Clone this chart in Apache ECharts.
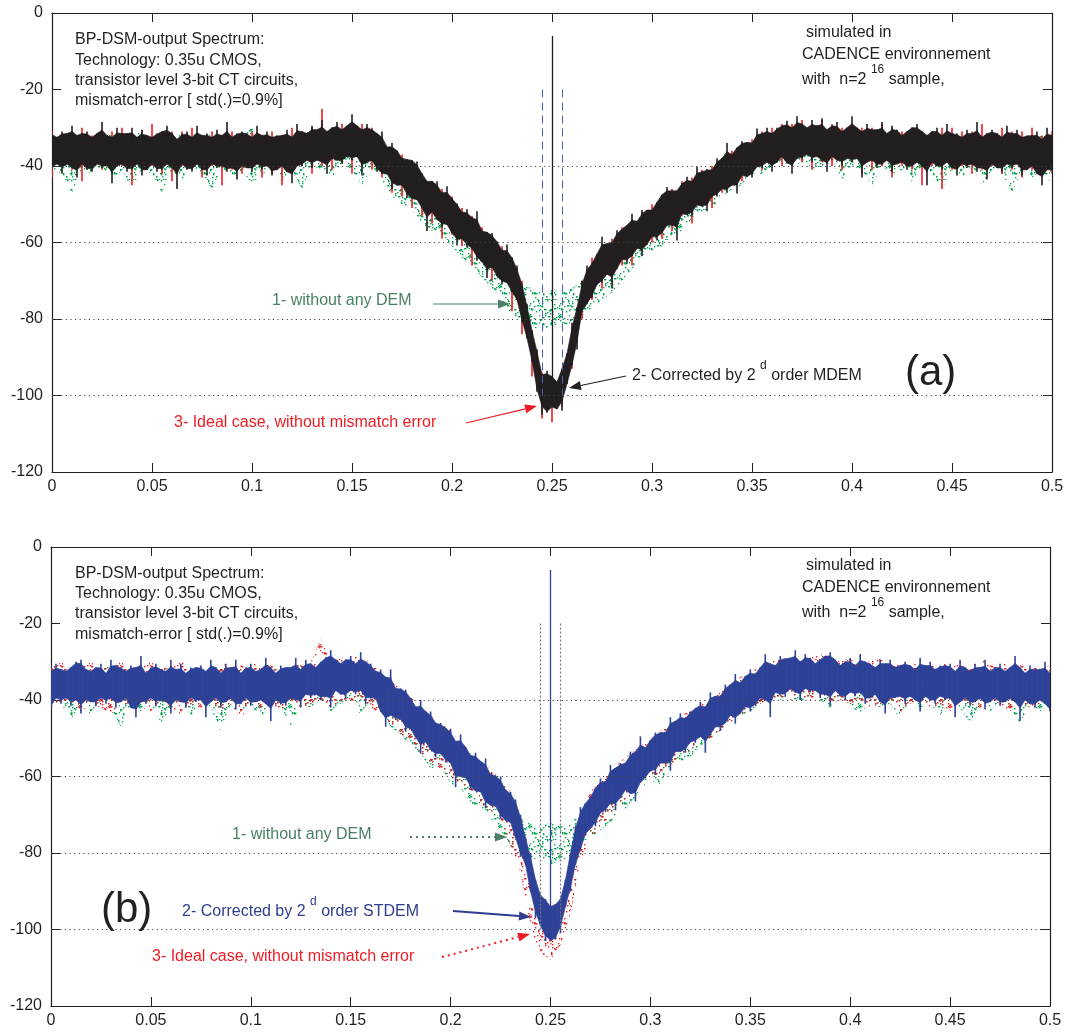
<!DOCTYPE html>
<html><head><meta charset="utf-8">
<script src="https://cdn.jsdelivr.net/npm/echarts@6/dist/echarts.min.js"></script>
<style>html,body{margin:0;padding:0;background:#fff}#c{width:1067px;height:1032px}</style>
</head><body><div id="c"></div>
<script>
// ---------- data (dB values) ----------
const FREQ_STEP_FINE = 0.0025;   // grid of the main (top-drawn) traces
const FREQ_STEP_COARSE = 0.005;  // grid of the underlying traces
const gridDb = [-40, -60, -80, -100];
const bandEdges = [0.245, 0.255];
const bandTopDb = -20, bandBottomDb = -100;
const toneFreq = 0.25;
const toneA = -6, toneB = -6;      // signal tone peak (dB)
const toneBaseA = -100, toneBaseB = -100;

// (a) black: 2nd order MDEM (upper / lower excursions)
const blackA_hi = [
-31.5,-32.5,-31,-31.5,-29.5,-32,-31.5,-31,-32.5,-31.5,
-28.5,-32,-32.5,-30,-31.5,-31.5,-30,-32.5,-30.5,-32,
-32.5,-31.5,-31,-29.5,-31.5,-33,-31.5,-31,-32.5,-29.5,
-32,-31.5,-32.5,-30.5,-32,-28.5,-32.5,-31.5,-31,-31.5,
-32.5,-29.5,-32,-31,-32.5,-32,-32,-30.5,-32.5,-29,
-31,-31.5,-29.5,-30.5,-28,-31,-30,-28.5,-30.5,-29.5,
-26.5,-29.5,-30.5,-29,-30.5,-31.5,-31,-35,-34,-36,
-38,-38.3,-38.5,-38.8,-42,-44,-44,-44,-47,-45.3,
-48.5,-49.8,-52,-51.3,-53.5,-51.8,-57,-57.3,-57.5,-59.8,
-62,-60.5,-64,-66,-71,-76,-83,-88,-94.5,-93.5,
-95,-96.5,-93,-89,-81,-77,-70,-66,-65.5,-63,
-58.5,-60.3,-60,-56.8,-56.5,-55.5,-52.5,-54.5,-51.5,-51.5,
-51.5,-49.5,-47.5,-45.5,-46.5,-46.5,-44.5,-42.8,-44,-40.2,
-41.5,-40.8,-41,-38,-38,-34,-37,-35.2,-33.5,-33.8,
-34,-30.2,-31.5,-30,-31.5,-30,-29.5,-28.2,-30,-27,
-29,-30,-28,-29.5,-27.5,-30.5,-29.5,-28.5,-31,-30,
-27,-30,-31,-29,-30.5,-30.5,-28.5,-31.5,-29.5,-30.5,
-32,-31,-30,-29,-31,-32,-31,-30,-32,-29,
-31.5,-31.5,-32.5,-30.5,-31.5,-28.5,-32.5,-31.5,-30.5,-31.5,
-32.5,-29.5,-31.5,-30.5,-32.5,-32,-32,-31,-33,-30,
-32];
const blackA_lo = [
-40.5,-39.5,-42,-39.5,-40.5,-43,-39.5,-41,-41.5,-39.5,
-40.5,-40,-44.5,-40,-39.5,-41.5,-41,-39.5,-42.5,-41,
-39.5,-41.5,-41,-39.5,-40.5,-46,-39.5,-41,-41.5,-39.5,
-41,-42.5,-39.5,-40.5,-40,-41.5,-40.5,-43.5,-40,-40.5,
-41.5,-39.5,-41,-40,-42.5,-41,-40,-41.5,-44.5,-40,
-40,-38.5,-40.5,-38.5,-39,-42,-38,-38.5,-39.5,-37.5,
-38.5,-37.5,-42.5,-39,-38.5,-41.5,-42,-42,-46,-45,
-45,-48.3,-48.5,-48.8,-51,-57,-52,-54,-56,-55.3,
-57.5,-60.8,-59,-61.3,-61.5,-64.8,-65,-69.3,-66.5,-68.8,
-71,-70.5,-73,-75,-81,-85,-91,-99,-105,-104.5,
-103,-103.5,-104,-97,-92,-88,-78,-76,-74.5,-71,
-70.5,-68.3,-72,-66.8,-64.5,-65.5,-63.5,-61.5,-63.5,-60.5,
-58.5,-59.5,-57.5,-55.5,-55.5,-59.5,-52.5,-52.8,-53,-50.2,
-50.5,-51.8,-48,-48,-46,-47,-45,-47.2,-42.5,-42.8,
-43,-40.2,-40.5,-39,-41.5,-39,-37.5,-39.2,-42,-38,
-38,-37,-39,-37.5,-38.5,-41.5,-37.5,-38.5,-40,-38,
-39,-38,-43,-39,-38.5,-40.5,-39.5,-38.5,-41.5,-39.5,
-39,-41,-40,-39,-40,-45,-39,-40,-41,-39,
-40.5,-42.5,-39.5,-40.5,-39.5,-41.5,-40.5,-43.5,-39.5,-40.5,
-41.5,-39.5,-40.5,-39.5,-42.5,-41,-40,-42,-45,-41,
-41];

// (a) green: without any DEM
const greenA_hi = [
-32,-33,-31,-32,-33,-31,-32,-33,-32,-31,
-33,-32,-32,-31,-33,-32,-31,-33,-32,-32,
-30,-33,-32,-33,-32,-31,-31,-30,-31,-30,
-29,-30,-31,-34,-36,-38,-40,-43,-45,-47,
-49,-52,-54,-57,-59,-62,-66,-71,-72,-73,
-72,-73,-72,-70,-65,-62,-60,-57,-55,-53,
-51,-49,-47,-45,-44,-42,-41,-39,-37,-35,
-34,-32,-31,-30,-30,-30,-30,-30,-31,-31,
-31,-31,-31,-32,-31,-32,-32,-31,-32,-32,
-32,-33,-32,-32,-33,-32,-32,-33,-33,-32,
-33];
const greenA_lo = [
-41,-42,-47,-41,-42,-40,-44,-41,-46,-41,
-42,-47,-41,-44,-40,-42,-46,-41,-43,-41,
-45,-42,-41,-44,-41,-46,-40,-41,-43,-39,
-41,-45,-40,-44,-48,-50,-51,-55,-57,-58,
-61,-64,-66,-69,-72,-75,-79,-80,-82,-83,
-82,-81,-82,-80,-77,-75,-73,-70,-67,-64,
-62,-61,-58,-57,-54,-53,-51,-48,-46,-45,
-42,-42,-40,-39,-40,-39,-41,-40,-39,-44,
-40,-41,-45,-40,-42,-41,-44,-40,-42,-46,
-41,-43,-40,-45,-41,-42,-47,-41,-43,-41,
-45];

// (a) red: ideal case
const redA_hi = [
-31,-32,-31,-30,-32,-31,-31,-30,-32,-31,
-29,-32,-31,-31,-30,-32,-31,-32,-31,-32,
-31,-32,-31,-32,-30,-31,-30,-25,-30,-29,
-29,-29,-30,-33,-35,-37,-39,-42,-44,-46,
-48,-51,-53,-56,-58,-61,-64,-70,-83,-94,
-95,-94,-83,-70,-64,-61,-59,-56,-54,-52,
-50,-48,-46,-44,-43,-41,-40,-38,-36,-34,
-33,-31,-30,-29,-29,-28,-29,-28,-29,-30,
-29,-30,-30,-29,-30,-31,-30,-31,-31,-30,
-30,-31,-31,-29,-31,-30,-31,-31,-30,-32,
-31];
const redA_lo = [
-43,-40,-41,-44,-40,-41,-42,-40,-45,-41,
-40,-42,-44,-40,-41,-43,-40,-45,-41,-42,
-40,-43,-42,-45,-41,-40,-42,-40,-41,-39,
-42,-40,-41,-43,-47,-48,-51,-53,-55,-59,
-58,-61,-66,-65,-70,-70,-78,-84,-95,-106,
-107,-103,-93,-80,-75,-72,-70,-66,-66,-61,
-60,-59,-57,-53,-55,-50,-51,-47,-45,-44,
-42,-41,-40,-40,-38,-39,-41,-39,-40,-41,
-39,-42,-41,-40,-43,-40,-41,-45,-40,-46,
-41,-40,-42,-41,-40,-42,-41,-43,-41,-40,
-42];

// (b) blue: 2nd order STDEM
const blueB_hi = [
-32.5,-30.5,-32,-32.5,-31.5,-30,-29.5,-32,-32.5,-31.5,
-30.5,-33,-29.5,-31,-31.5,-32.5,-31,-31.5,-28.5,-33,
-31.5,-30.5,-32,-32.5,-29.5,-32,-30.5,-33,-31.5,-31.5,
-31,-32.5,-29.5,-31.5,-33,-30.5,-31.5,-29.5,-33,-31.5,
-30.5,-32.5,-32,-29,-31.5,-33,-31,-31.5,-31.5,-29,
-32,-29.5,-30.5,-31.5,-30,-29,-27,-29.5,-30.5,-29.5,
-28.5,-30.5,-27.5,-30,-30.5,-32.5,-32,-34,-32,-37,
-37,-37.3,-39.5,-41.8,-40,-43,-43,-46,-46,-47.3,
-47.5,-50.8,-49,-52.3,-54.5,-53.8,-56,-55.3,-59.5,-59.8,
-60,-63.5,-64,-66,-70,-76,-80,-87,-91,-92,
-94,-93.5,-92,-87,-80,-73,-68,-67,-65.5,-63,
-60.5,-61.3,-57,-57.8,-56.5,-56.5,-53.5,-53.5,-49.5,-52.5,
-50.5,-48.5,-48.5,-48.5,-44.5,-45.5,-43.5,-44.8,-43,-42.2,
-40.5,-41.8,-38,-39,-39,-36,-36,-33.2,-35.5,-33.8,
-32,-33.2,-31.5,-28,-30.5,-31,-28.5,-29.2,-29,-27,
-30,-28,-29,-30.5,-29.5,-28.5,-27.5,-29.5,-31,-30,
-29,-31,-28,-30,-30.5,-31.5,-29.5,-30.5,-29.5,-31.5,
-31,-30,-31,-32,-29,-31,-30,-32,-31,-31,
-30.5,-32.5,-29.5,-31.5,-32.5,-30.5,-31.5,-29.5,-32.5,-31.5,
-30.5,-32.5,-31.5,-28.5,-31.5,-33,-31,-32,-32,-30,
-33];
const blueB_lo = [
-42.5,-39.5,-41,-39.5,-41.5,-40,-43.5,-40,-40.5,-41.5,
-39.5,-41,-39.5,-42,-40.5,-39.5,-42,-44.5,-40.5,-41,
-39.5,-41.5,-40,-40.5,-43.5,-40,-40.5,-42,-39.5,-40.5,
-40,-44.5,-40.5,-39.5,-42,-40.5,-39.5,-42.5,-41,-39.5,
-41.5,-40.5,-40,-41,-45.5,-40,-41,-41.5,-39.5,-40,
-42,-38.5,-39.5,-38.5,-40,-39,-42,-37.5,-38.5,-39.5,
-37.5,-38.5,-37.5,-41,-39.5,-39.5,-43,-47,-44,-45,
-45,-48.3,-47.5,-49.8,-54,-51,-53,-55,-54,-56.3,
-56.5,-62.8,-60,-60.3,-63.5,-63.8,-64,-68.3,-67.5,-67.8,
-71,-71.5,-72,-76,-81,-83,-90,-97,-99,-103,
-103,-102.5,-101,-94,-90,-83,-79,-75,-73.5,-73,
-69.5,-69.3,-67,-68.8,-65.5,-63.5,-64.5,-66.5,-61.5,-60.5,
-58.5,-59.5,-56.5,-56.5,-58.5,-53.5,-53.5,-53.8,-51,-51.2,
-49.5,-53.8,-49,-47,-48,-46,-44,-46.2,-43.5,-41.8,
-43,-41.2,-39.5,-40,-44.5,-38,-38.5,-39.2,-37,-38,
-40,-37,-38,-37.5,-39.5,-38.5,-41.5,-37.5,-39,-40,
-38,-39,-38,-41,-39.5,-38.5,-40.5,-43.5,-39.5,-39.5,
-39,-41,-39,-40,-43,-39,-40,-41,-39,-40,
-39.5,-44.5,-40.5,-39.5,-41.5,-40.5,-39.5,-42.5,-40.5,-39.5,
-41.5,-40.5,-39.5,-40.5,-45.5,-40,-41,-42,-40,-41,
-43];

// (b) green: without any DEM
const greenB_hi = [
-31,-32,-32,-31,-33,-32,-31,-32,-31,-33,
-32,-31,-32,-33,-31,-32,-32,-31,-33,-32,
-31,-32,-33,-31,-32,-31,-30,-31,-29,-30,
-29,-30,-31,-34,-36,-38,-40,-43,-45,-47,
-49,-52,-54,-57,-59,-62,-66,-71,-72,-73,
-72,-73,-72,-70,-65,-62,-60,-57,-55,-53,
-51,-49,-47,-45,-44,-42,-41,-39,-37,-35,
-34,-32,-31,-30,-30,-30,-30,-30,-31,-31,
-31,-31,-31,-32,-31,-32,-32,-31,-32,-32,
-32,-33,-32,-32,-33,-32,-32,-33,-33,-32,
-33];
const greenB_lo = [
-42,-41,-45,-41,-44,-40,-42,-47,-41,-43,
-41,-46,-42,-41,-44,-40,-42,-48,-41,-43,
-41,-45,-40,-42,-47,-41,-42,-40,-43,-41,
-39,-44,-40,-43,-47,-49,-52,-54,-58,-57,
-62,-63,-67,-68,-71,-74,-78,-81,-82,-81,
-83,-82,-81,-79,-76,-74,-72,-69,-68,-63,
-61,-62,-57,-56,-55,-52,-50,-49,-45,-44,
-43,-41,-39,-40,-39,-41,-39,-40,-42,-39,
-41,-44,-40,-42,-41,-45,-40,-42,-41,-44,
-40,-42,-46,-41,-43,-40,-42,-46,-41,-43,
-41];

// (b) red: ideal case
const redB_hi = [
-31,-30,-32,-31,-30,-32,-31,-30,-32,-31,
-30,-32,-31,-30,-31,-32,-31,-30,-32,-31,
-31,-30,-31,-32,-30,-31,-30,-24,-30,-29,
-28,-29,-30,-33,-35,-37,-39,-42,-44,-46,
-48,-51,-53,-56,-58,-61,-64,-70,-84,-92,
-93,-94,-84,-70,-64,-61,-59,-56,-54,-52,
-50,-48,-46,-44,-43,-41,-40,-38,-36,-34,
-33,-31,-30,-29,-29,-28,-29,-28,-29,-30,
-29,-30,-30,-29,-30,-31,-30,-31,-31,-30,
-30,-31,-31,-29,-31,-30,-31,-31,-30,-32,
-31];
const redB_lo = [
-42,-41,-40,-43,-41,-42,-44,-40,-42,-41,
-43,-40,-42,-44,-41,-42,-40,-43,-41,-45,
-40,-42,-41,-43,-40,-42,-41,-40,-42,-40,
-41,-39,-42,-44,-46,-49,-50,-54,-56,-58,
-60,-62,-64,-67,-69,-71,-78,-85,-100,-106,
-108,-104,-96,-82,-76,-73,-71,-67,-66,-62,
-61,-59,-57,-55,-53,-51,-50,-48,-46,-44,
-42,-41,-40,-39,-40,-39,-40,-38,-41,-40,
-41,-40,-42,-41,-40,-43,-41,-40,-42,-41,
-43,-40,-41,-42,-40,-41,-43,-40,-42,-41,
-40];

// ---------- build ----------
const FONT = '"Liberation Sans", Arial, Helvetica, sans-serif';
const INK = '#231f20';
const C_BLACK = '#231f20', C_RED = '#ed1c24', C_GREEN = '#00a651', C_BLUE = '#2e4298';

// dotted texture used for the "dotted" traces (style only)
function dotPattern(color, count, size) {
  const c = document.createElement('canvas');
  c.width = 30; c.height = 30;
  const g = c.getContext('2d');
  g.fillStyle = color;
  let s = 12345;
  const nxt = () => (s = (s * 16807) % 2147483647);
  for (let k = 0; k < count; k++) {
    const x = nxt() % 30, y = nxt() % 30;
    g.fillRect(x, y, size, size);
  }
  return {image: c, repeat: 'repeat'};
}

// band items: [f, hi, lo, coreTop, coreBottom, fNext, coreTopNext, coreBottomNext]
// the part of each sample's excursion beyond its neighbours is drawn as a thin hair
function hairBandItems(hi, lo, step) {
  const n = hi.length, ct = [], cb = [];
  for (let i = 0; i < n; i++) {
    const ah = (hi[Math.max(0, i - 1)] + hi[Math.min(n - 1, i + 1)]) / 2;
    const al = (lo[Math.max(0, i - 1)] + lo[Math.min(n - 1, i + 1)]) / 2;
    let t = hi[i] <= ah ? hi[i] : ah + 0.35 * (hi[i] - ah);
    let b = lo[i] >= al ? lo[i] : al - 0.35 * (al - lo[i]);
    if (t < b + 1) { const m = (hi[i] + lo[i]) / 2; t = m + 1; b = m - 1; }
    ct.push(t); cb.push(b);
  }
  const d = [];
  for (let i = 0; i < n; i++) {
    const j = Math.min(n - 1, i + 1);
    d.push([+(i * step).toFixed(6), hi[i], lo[i], ct[i], cb[i], +(j * step).toFixed(6), ct[j], cb[j]]);
  }
  return d;
}

function hairBandSeries(name, hi, lo, step, ai, color, z, hairW) {
  return {
    type: 'custom', name, xAxisIndex: ai, yAxisIndex: ai, z, silent: true, animation: false, clip: true,
    encode: {x: [0, 5], y: [1, 2]},
    data: hairBandItems(hi, lo, step),
    renderItem(params, api) {
      const f0 = api.value(0), f1 = api.value(5);
      const top = api.coord([f0, api.value(1)]), bot = api.coord([f0, api.value(2)]);
      const children = [{
        type: 'rect',
        shape: {x: top[0] - hairW / 2, y: top[1], width: hairW, height: bot[1] - top[1]},
        style: {fill: color}
      }];
      if (f1 > f0) {
        children.push({
          type: 'polygon',
          shape: {points: [
            api.coord([f0, api.value(3)]), api.coord([f1, api.value(6)]),
            api.coord([f1, api.value(7)]), api.coord([f0, api.value(4)])
          ]},
          style: {fill: color, stroke: color, lineWidth: 0.6}
        });
      }
      return {type: 'group', children};
    }
  };
}

function hairSeries(name, hi, lo, step, ai, color, z, hairW) {
  const data = hi.map((h, i) => [+(i * step).toFixed(6), h, lo[i]]);
  return {
    type: 'custom', name, xAxisIndex: ai, yAxisIndex: ai, z, silent: true, animation: false, clip: true,
    encode: {x: 0, y: [1, 2]},
    data,
    renderItem(params, api) {
      const top = api.coord([api.value(0), api.value(1)]), bot = api.coord([api.value(0), api.value(2)]);
      return {type: 'rect', shape: {x: top[0] - hairW / 2, y: top[1], width: hairW, height: bot[1] - top[1]},
        style: {fill: color}};
    }
  };
}

function dottedBandSeries(name, hi, lo, step, ai, fill, z) {
  const data = [];
  for (let i = 0; i < hi.length - 1; i++) {
    data.push([+(i * step).toFixed(6), hi[i], lo[i], +((i + 1) * step).toFixed(6), hi[i + 1], lo[i + 1]]);
  }
  return {
    type: 'custom', name, xAxisIndex: ai, yAxisIndex: ai, z, silent: true, animation: false, clip: true,
    encode: {x: [0, 3], y: [1, 2, 4, 5]},
    data,
    renderItem(params, api) {
      return {
        type: 'polygon',
        shape: {points: [
          api.coord([api.value(0), api.value(1)]), api.coord([api.value(3), api.value(4)]),
          api.coord([api.value(3), api.value(5)]), api.coord([api.value(0), api.value(2)])
        ]},
        style: {fill}
      };
    }
  };
}

const chart = echarts.init(document.getElementById('c'), null, {renderer: 'canvas'});

const grids = [
  {left: 52, top: 13, width: 1000, height: 459},
  {left: 51, top: 547, width: 999, height: 459}
];

function xAx(gi, pos) {
  return {
    type: 'value', gridIndex: gi, position: pos, min: 0, max: 0.5, interval: 0.05,
    axisLine: {show: true, onZero: false, lineStyle: {color: INK, width: 1.2}},
    axisTick: {show: true, inside: true, length: 9, lineStyle: {color: INK}},
    splitLine: {show: false},
    axisLabel: {show: pos === 'bottom', color: INK, fontSize: 16, fontFamily: FONT, margin: 7,
      formatter: v => String(+v.toFixed(2))}
  };
}
function yAx(gi, pos) {
  return {
    type: 'value', gridIndex: gi, position: pos, min: -120, max: 0, interval: 20,
    axisLine: {show: true, onZero: false, lineStyle: {color: INK, width: 1.2}},
    axisTick: {show: true, inside: true, length: 9, lineStyle: {color: INK}},
    splitLine: {show: false},
    axisLabel: {show: pos === 'left', color: INK, fontSize: 16, fontFamily: FONT, margin: 9}
  };
}

function guideSeries(ai, edgeStyle) {
  return {
    type: 'line', data: [], xAxisIndex: ai, yAxisIndex: ai, z: 1, silent: true, animation: false,
    markLine: {
      silent: true, symbol: 'none', animation: false, label: {show: false},
      lineStyle: {color: '#444', width: 1, type: [1.2, 3.4]},
      data: gridDb.map(v => ({yAxis: v})).concat(
        bandEdges.map(f => [
          {coord: [f, bandTopDb], lineStyle: edgeStyle},
          {coord: [f, bandBottomDb], lineStyle: edgeStyle}
        ]))
    }
  };
}
function toneSeries(ai, base, peak, color) {
  return {
    type: 'line', data: [], xAxisIndex: ai, yAxisIndex: ai, z: 6, silent: true, animation: false,
    markLine: {
      silent: true, symbol: 'none', animation: false, label: {show: false},
      lineStyle: {color, width: 1.3, type: 'solid'},
      data: [[{coord: [toneFreq, base]}, {coord: [toneFreq, peak]}]]
    }
  };
}

const series = [
  // (a)
  guideSeries(0, {color: '#4b5cb5', width: 1, type: [8, 5]}),
  dottedBandSeries('green a', greenA_hi, greenA_lo, FREQ_STEP_COARSE, 0, dotPattern(C_GREEN, 90, 1.4), 2),
  hairSeries('red a', redA_hi, redA_lo, FREQ_STEP_COARSE, 0, C_RED, 3, 1.6),
  hairBandSeries('black a', blackA_hi, blackA_lo, FREQ_STEP_FINE, 0, C_BLACK, 4, 1.6),
  toneSeries(0, toneBaseA, toneA, C_BLACK),
  // (b)
  guideSeries(2, {color: '#777', width: 1.2, type: [2, 2]}),
  dottedBandSeries('green b', greenB_hi, greenB_lo, FREQ_STEP_COARSE, 2, dotPattern(C_GREEN, 90, 1.4), 2),
  dottedBandSeries('red b', redB_hi, redB_lo, FREQ_STEP_COARSE, 2, dotPattern(C_RED, 75, 1.4), 3),
  hairBandSeries('blue b', blueB_hi, blueB_lo, FREQ_STEP_FINE, 2, C_BLUE, 4, 1.6),
  toneSeries(2, toneBaseB, toneB, C_BLUE)
];

// ---------- annotations ----------
function txt(x, y, text, color, size) {
  return {
    type: 'text', x, y, z: 100, silent: true,
    style: {
      text, fill: color, fontSize: size, fontFamily: FONT,
      align: 'left', verticalAlign: 'middle', textAlign: 'left', textVerticalAlign: 'middle'
    }
  };
}
function supTxt(x, y, parts, color) {
  return {
    type: 'text', x, y, z: 100, silent: true,
    style: {
      text: parts, fill: color, fontSize: 16, fontFamily: FONT, lineHeight: 32,
      align: 'left', verticalAlign: 'middle', textAlign: 'left', textVerticalAlign: 'middle',
      rich: {
        n: {fontSize: 16, fontFamily: FONT, fill: color, lineHeight: 32},
        s: {fontSize: 12, fontFamily: FONT, fill: color, verticalAlign: 'top'}
      }
    }
  };
}
function arrow(x1, y1, x2, y2, color, width, dash) {
  const a = Math.atan2(y2 - y1, x2 - x1);
  const L = 12, W = 4.5;
  const bx = x2 - L * Math.cos(a), by = y2 - L * Math.sin(a);
  const px = -Math.sin(a) * W, py = Math.cos(a) * W;
  return [
    {type: 'line', z: 100, silent: true, shape: {x1, y1, x2: bx, y2: by},
      style: {stroke: color, lineWidth: width, lineDash: dash || null}},
    {type: 'polygon', z: 100, silent: true,
      shape: {points: [[x2, y2], [bx + px, by + py], [bx - px, by - py]]},
      style: {fill: color}}
  ];
}

const infoLines = ['BP-DSM-output Spectrum:', 'Technology: 0.35u CMOS,',
  'transistor level 3-bit CT circuits,', 'mismatch-error [ std(.)=0.9%]'];
const G_TXT = '#4a8062', R_TXT = '#ed1c24', B_TXT = '#2e3d90';

const graphic = [];
[[[40, 61, 81, 101], [33, 55, 80]], [[574, 594, 614, 635], [566, 588, 613]]].forEach(([ys, rs]) => {
  infoLines.forEach((t, k) => graphic.push(txt(75, ys[k], t, INK, 16)));
  graphic.push(txt(806, rs[0], 'simulated in', INK, 16));
  graphic.push(txt(802, rs[1], 'CADENCE environnement', INK, 16));
  graphic.push(supTxt(802, rs[2], '{n|with  n=2 }{s|16}{n| sample,}', INK));
});

// (a) labels
graphic.push(txt(272, 301, '1- without any DEM', G_TXT, 16));
graphic.push(...arrow(433, 304, 510, 304, '#4d7f66', 1.2));
graphic.push(supTxt(632, 376, '{n|2- Corrected by 2 }{s|d}{n| order MDEM}', INK));
graphic.push(...arrow(626, 376, 569, 388, INK, 1.2));
graphic.push(txt(905, 373, '(a)', INK, 42));
graphic.push(txt(174, 423, '3- Ideal case, without mismatch error', R_TXT, 16));
graphic.push(...arrow(466, 423, 537, 406, R_TXT, 1.2));

// (b) labels
graphic.push(txt(232, 835, '1- without any DEM', G_TXT, 16));
graphic.push(...arrow(410, 837, 507, 837, '#4d7f66', 2, [2, 4]));
graphic.push(txt(101, 910, '(b)', INK, 42));
graphic.push(supTxt(182, 912, '{n|2- Corrected by 2 }{s|d}{n| order STDEM}', B_TXT));
graphic.push(...arrow(453, 911, 531, 917, B_TXT, 2));
graphic.push(txt(152, 957, '3- Ideal case, without mismatch error', R_TXT, 16));
graphic.push(...arrow(442, 957, 530, 934, R_TXT, 2, [2, 4]));

chart.setOption({
  animation: false,
  backgroundColor: '#ffffff',
  grid: grids,
  xAxis: [xAx(0, 'bottom'), xAx(0, 'top'), xAx(1, 'bottom'), xAx(1, 'top')],
  yAxis: [yAx(0, 'left'), yAx(0, 'right'), yAx(1, 'left'), yAx(1, 'right')],
  series,
  graphic
});
</script>
</body></html>
